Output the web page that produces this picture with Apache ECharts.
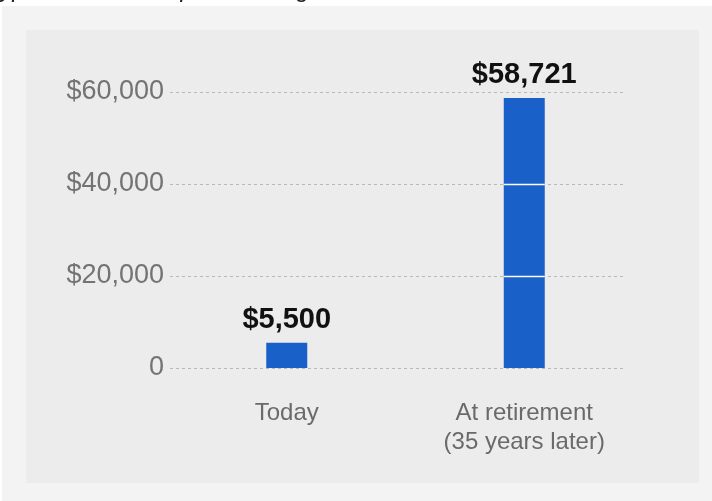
<!DOCTYPE html>
<html>
<head>
<meta charset="utf-8">
<script src="https://cdn.jsdelivr.net/npm/echarts@6/dist/echarts.min.js"></script>
<style>
    html, body { margin: 0; padding: 0; background: #ffffff; }
    #chart { width: 712px; height: 501px; }
</style>
</head>
<body>
<div id="chart"></div>
<script>
// data
var categories = ['Today', 'At retirement\n(35 years later)'];
var values = [5500, 58721];
var yTicks = [0, 20000, 40000, 60000];

function money(v) {
    return '$' + v.toLocaleString('en-US');
}

var chart = echarts.init(document.getElementById('chart'));
var fontFamily = '"Liberation Sans", Arial, sans-serif';

var option = {
    animation: false,
    backgroundColor: '#ffffff',
    graphic: [
        {type: 'rect', shape: {x: 2, y: 6, width: 710, height: 495}, style: {fill: '#f3f3f3'}, z: -10},
        {type: 'rect', shape: {x: 26, y: 30, width: 673, height: 453}, style: {fill: '#ececec'}, z: -9},
        {
            // caption cut off by the top edge, as in the original
            type: 'text', left: -17, top: -22, z: -8,
            style: {
                text: 'Hypothetical example of a single IRA contribution',
                fill: '#222', font: 'italic 24px ' + fontFamily
            }
        }
    ],
    grid: [
        {left: 170, right: 87, top: 92, bottom: 133},
        {left: 168, right: 69, top: 92, bottom: 133}
    ],
    xAxis: [
        {gridIndex: 0, type: 'category', data: categories, show: false},
        {
            gridIndex: 1, type: 'category', data: categories,
            axisLine: {show: false},
            axisTick: {show: false},
            axisLabel: {
                margin: 31,
                color: '#6a6a6a',
                fontSize: 24,
                lineHeight: 29,
                fontFamily: fontFamily
            }
        }
    ],
    yAxis: [
        {
            gridIndex: 0, type: 'value', min: 0, max: 60000, interval: 20000,
            axisLine: {show: false},
            axisTick: {show: false},
            axisLabel: {
                margin: 6,
                color: '#737373',
                fontSize: 27,
                fontFamily: fontFamily,
                formatter: function (v) { return v === 0 ? '0' : money(v); }
            },
            splitLine: {lineStyle: {color: '#b8b8b8', type: [3, 3], width: 1}}
        },
        {
            gridIndex: 1, type: 'value', min: 0, max: 60000, interval: 20000,
            show: false
        }
    ],
    series: [
        {
            type: 'bar',
            xAxisIndex: 1,
            yAxisIndex: 1,
            barWidth: 41,
            data: values,
            itemStyle: {color: '#1a60c9'},
            label: {
                show: true,
                position: 'top',
                distance: 8,
                color: '#111',
                fontWeight: 'bold',
                fontSize: 29,
                fontFamily: fontFamily,
                formatter: function (p) { return money(p.value); }
            }
        },
        {
            // white gridline segments crossing the bars
            type: 'custom',
            xAxisIndex: 1,
            yAxisIndex: 1,
            z: 5,
            silent: true,
            data: values.map(function (v, i) { return [i, v]; }),
            renderItem: function (params, api) {
                var idx = api.value(0);
                var val = api.value(1);
                var cx = api.coord([idx, 0])[0];
                var children = [];
                yTicks.forEach(function (t) {
                    if (t > 0 && t < val) {
                        var y = Math.round(api.coord([idx, t])[1]) + 0.5;
                        children.push({
                            type: 'line',
                            shape: {x1: cx - 20.5, y1: y, x2: cx + 20.5, y2: y},
                            style: {stroke: '#ffffff', lineWidth: 1.5}
                        });
                    }
                });
                return {type: 'group', children: children};
            }
        }
    ]
};

chart.setOption(option);

window.addEventListener('resize', function () {
    chart.resize();
});
</script>
</body>
</html>
